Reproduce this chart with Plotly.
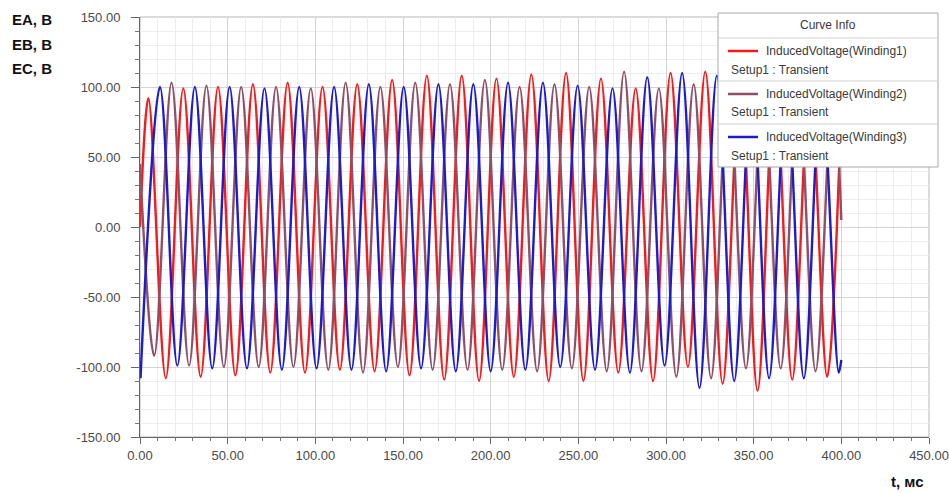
import plotly.graph_objects as go

# ---------------- data (t in ms, voltage in V) ----------------
# Winding 1 (red)
red_start = (0.0, 0.0)
red_end = (400.0, 88.0)
red_peak_t = [4.8, 24.7, 44.5, 64.4, 84.2, 104.1, 123.9, 143.8, 163.6, 183.5,
              203.3, 223.2, 243.0, 262.9, 282.7, 302.6, 322.4, 342.3, 362.1, 382.0]
red_peak_v = [92, 99, 100, 102, 103, 100, 102, 105, 108, 108,
              106, 109, 110, 106, 99, 110, 111, 104, 106, 103]
red_trough_t = [14.7, 34.6, 54.4, 74.3, 94.1, 114.0, 133.8, 153.7, 173.5, 193.4,
                213.2, 233.1, 252.9, 272.8, 292.6, 312.5, 332.3, 352.2, 372.0, 391.9]
red_trough_v = [-108, -107, -106, -104, -104, -102, -103, -106, -109, -110,
                -107, -110, -110, -104, -110, -100, -112, -117, -109, -107]

# Winding 2 (mauve)
brown_start = (0.0, 45.0)
brown_end = (400.0, 5.0)
brown_peak_t = [18.0, 37.9, 57.7, 77.6, 97.4, 117.3, 137.1, 157.0, 176.8, 196.7,
                216.5, 236.4, 256.2, 276.1, 295.9, 315.8, 335.6, 355.5, 375.3, 395.2]
brown_peak_v = [103, 101, 100, 100, 99, 103, 100, 103, 102, 105,
                100, 102, 100, 111, 99, 102, 103, 104, 102, 103]
brown_trough_t = [8.1, 28.0, 47.8, 67.7, 87.5, 107.4, 127.2, 147.1, 166.9, 186.8,
                  206.6, 226.5, 246.3, 266.2, 286.0, 305.9, 325.7, 345.6, 365.4, 385.3]
brown_trough_v = [-92, -99, -100, -100, -100, -102, -104, -100, -102, -102,
                  -102, -103, -101, -103, -103, -107, -108, -101, -101, -103]

# Winding 3 (blue)
blue_start = None
blue_end = (400.0, -95.0)
blue_peak_t = [11.4, 31.3, 51.1, 71.0, 90.8, 110.7, 130.5, 150.4, 170.2, 190.1,
               209.9, 229.8, 249.6, 269.5, 289.3, 309.2, 329.0, 348.9, 368.7, 388.6]
blue_peak_v = [100, 100, 100, 99, 100, 100, 102, 100, 102, 102,
               103, 103, 101, 99, 107, 110, 108, 104, 102, 103]
blue_trough_t = [0.3, 21.3, 41.2, 61.0, 80.9, 100.7, 120.6, 140.4, 160.3, 180.1,
                 200.0, 219.8, 239.7, 259.5, 279.4, 299.2, 319.1, 338.9, 358.8, 378.6, 398.5]
blue_trough_v = [-108, -99, -101, -101, -102, -101, -102, -103, -101, -103,
                 -103, -102, -100, -102, -104, -99, -115, -110, -108, -108, -104]

series_names = ["InducedVoltage(Winding1)", "InducedVoltage(Winding2)", "InducedVoltage(Winding3)"]
setup_label = "Setup1 : Transient"
series_colors = ["#f21c1c", "#8c5068", "#1c1ccc"]

x_ticks = [0, 50, 100, 150, 200, 250, 300, 350, 400, 450]
y_ticks = [-150, -100, -50, 0, 50, 100, 150]


def merge(start, end, pt, pv, tt, tv):
    pts = list(zip(pt, pv)) + list(zip(tt, tv))
    if start is not None:
        pts.append(start)
    if end is not None:
        pts.append(end)
    pts.sort(key=lambda p: p[0])
    return [p[0] for p in pts], [p[1] for p in pts]


red_x, red_y = merge(red_start, red_end, red_peak_t, red_peak_v, red_trough_t, red_trough_v)
brown_x, brown_y = merge(brown_start, brown_end, brown_peak_t, brown_peak_v, brown_trough_t, brown_trough_v)
blue_x, blue_y = merge(blue_start, blue_end, blue_peak_t, blue_peak_v, blue_trough_t, blue_trough_v)

W, H = 949, 493
ML, MR, MT, MB = 140, 20, 17, 56
PW, PH = W - ML - MR, H - MT - MB


def px(x):
    return (x - ML) / PW


def py(y):
    return (H - MB - y) / PH


fig = go.Figure()
for xs, ys, name, col in zip([red_x, brown_x, blue_x], [red_y, brown_y, blue_y],
                             series_names, series_colors):
    fig.add_trace(go.Scatter(x=xs, y=ys, mode="lines", name=name,
                             line=dict(color=col, width=2.4, shape="spline", smoothing=1),
                             showlegend=False, hoverinfo="x+y+name"))

tickfont = dict(family="Liberation Sans, Arial, sans-serif", size=13, color="#4a4a4a")
fig.update_xaxes(range=[0, 450], tickvals=x_ticks, ticktext=[f"{v:.2f}" for v in x_ticks],
                 automargin=False,
                 showgrid=True, gridcolor="#d4d4d4", gridwidth=1, zeroline=False,
                 ticks="outside", ticklen=6, tickcolor="#666666",
                 showline=True, linecolor="#666666", linewidth=1,
                 minor=dict(dtick=10, tick0=0, showgrid=True, gridcolor="#ededed",
                            ticks="outside", ticklen=3, tickcolor="#777777"),
                 tickfont=tickfont)
fig.update_yaxes(range=[-150, 150], tickvals=y_ticks, ticktext=[f"{v:.2f}" for v in y_ticks],
                 automargin=False,
                 showgrid=True, gridcolor="#d4d4d4", gridwidth=1, zeroline=False,
                 ticks="outside", ticklen=8, tickcolor="#666666", ticklabelstandoff=8,
                 showline=True, linecolor="#666666", linewidth=1,
                 minor=dict(dtick=10, tick0=0, showgrid=True, gridcolor="#ededed",
                            ticks="outside", ticklen=4, tickcolor="#777777"),
                 tickfont=tickfont)

shapes = [dict(type="rect", xref="paper", yref="paper", x0=0, x1=1, y0=0, y1=1,
               line=dict(color="#b5b5b5", width=1), layer="below")]
annotations = []

# axis titles
title_font = dict(family="Liberation Sans, Arial, sans-serif", size=15, color="#111111")
for i, txt in enumerate(["<b>EA, В</b>", "<b>EB, В</b>", "<b>EC, В</b>"]):
    annotations.append(dict(text=txt, xref="paper", yref="paper", x=px(10), y=py(20 + 24 * i),
                            xanchor="left", yanchor="middle", showarrow=False, font=title_font))
annotations.append(dict(text="<b>t, мс</b>", xref="paper", yref="paper", x=px(926), y=py(481),
                        xanchor="right", yanchor="middle", showarrow=False, font=title_font))

# custom "Curve Info" legend box
LX0, LX1, LY0, LY1 = 718, 938, 13, 167
shapes.append(dict(type="rect", xref="paper", yref="paper", x0=px(LX0), x1=px(LX1),
                   y0=py(LY1), y1=py(LY0), line=dict(color="#a8a8a8", width=1),
                   fillcolor="white", layer="above"))
for sy in [38, 81, 124]:
    shapes.append(dict(type="line", xref="paper", yref="paper", x0=px(LX0), x1=px(LX1),
                       y0=py(sy), y1=py(sy), line=dict(color="#d0d0d0", width=1), layer="above"))
leg_font = dict(family="Liberation Sans, Arial, sans-serif", size=12, color="#3a3a3a")
annotations.append(dict(text="Curve Info", xref="paper", yref="paper", x=px((LX0 + LX1) / 2),
                        y=py(25), xanchor="center", yanchor="middle", showarrow=False, font=leg_font))
for i, (name, col) in enumerate(zip(series_names, series_colors)):
    ly = 51 + 43 * i
    shapes.append(dict(type="line", xref="paper", yref="paper", x0=px(728), x1=px(758),
                       y0=py(ly), y1=py(ly), line=dict(color=col, width=2.5), layer="above"))
    annotations.append(dict(text=name, xref="paper", yref="paper", x=px(764), y=py(ly),
                            xanchor="left", yanchor="middle", showarrow=False, font=leg_font))
    annotations.append(dict(text=setup_label, xref="paper", yref="paper", x=px(729), y=py(ly + 18.5),
                            xanchor="left", yanchor="middle", showarrow=False, font=leg_font))

fig.update_layout(width=W, height=H, margin=dict(l=ML, r=MR, t=MT, b=MB, autoexpand=False),
                  paper_bgcolor="white", plot_bgcolor="white",
                  shapes=shapes, annotations=annotations, showlegend=False)

fig.write_html("out.html", config={"displayModeBar": False},
               post_script="document.body.style.margin='0';document.body.style.overflow='hidden';")
